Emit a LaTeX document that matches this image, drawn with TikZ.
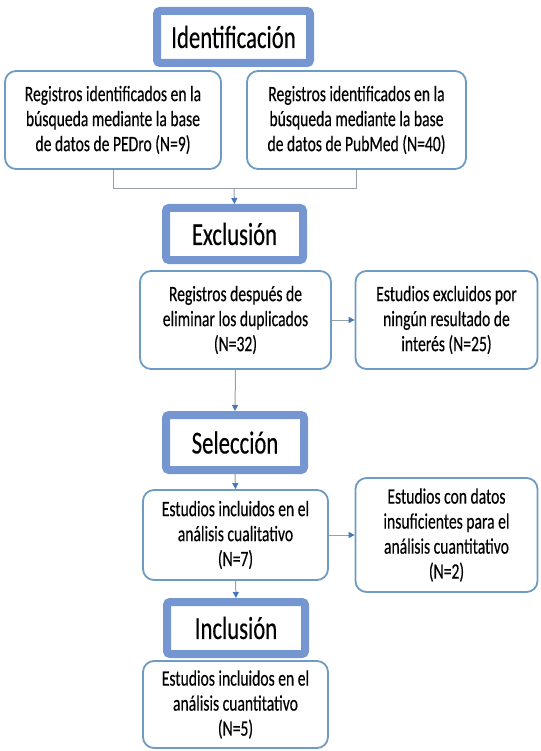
\documentclass[tikz,border=0pt]{standalone}
\usepackage{fontspec}
\setmainfont{Carlito}[FakeStretch=0.71, FakeBold=0.3]
\usepackage{tikz}
\usetikzlibrary{arrows.meta,positioning,calc}

\definecolor{hdrblue}{RGB}{118,150,210}
\definecolor{boxblue}{RGB}{110,155,195}
\definecolor{lnkgray}{RGB}{150,160,170}
\definecolor{tipblue}{RGB}{70,120,185}

\begin{document}
\begin{tikzpicture}[
    x=1pt, y=-1pt,
    hdr/.style={draw=hdrblue, line width=8pt, fill=white, rounded corners=3pt, inner sep=0pt, align=center, font=\fontsize{32}{36}\selectfont},
    box/.style={draw=boxblue, line width=1.8pt, fill=white, rounded corners=11pt, inner sep=0pt, align=center, font=\fontsize{22}{25}\selectfont},
    arr/.style={-{Triangle[length=6pt, width=6pt, color=tipblue]}, draw=lnkgray, line width=1pt},
    lnk/.style={draw=lnkgray, line width=1pt}
]
\useasboundingbox (0,0) rectangle (540,751);

% fases
\node[hdr, minimum width=153pt, minimum height=52pt] (ident) at (233.5,37) {Identificación};
\node[hdr, minimum width=137pt, minimum height=52pt] (excl) at (234.5,234) {Exclusión};
\node[hdr, minimum width=138pt, minimum height=55pt] (sel) at (235,442.5) {Selección};
\node[hdr, minimum width=138pt, minimum height=52pt] (incl) at (236,628) {Inclusión};

% registros
\node[box, minimum width=216pt, minimum height=98pt] (pedro) at (113,120) {Registros identificados en la\\búsqueda mediante la base\\de datos de PEDro (N=9)};
\node[box, minimum width=219pt, minimum height=98pt] (pubmed) at (356.5,120) {Registros identificados en la\\búsqueda mediante la base\\de datos de PubMed (N=40)};
\node[box, minimum width=191pt, minimum height=98pt] (dup) at (235.5,320) {Registros después de\\eliminar los duplicados\\(N=32)};
\node[box, minimum width=182pt, minimum height=98pt] (noint) at (446.5,320) {Estudios excluidos por\\ningún resultado de\\interés (N=25)};
\node[box, minimum width=185pt, minimum height=90pt] (cual) at (235.5,535) {Estudios incluidos en el\\análisis cualitativo\\(N=7)};
\node[box, minimum width=182pt, minimum height=114pt] (insuf) at (446.5,535) {Estudios con datos\\insuficientes para el\\análisis cuantitativo\\(N=2)};
\node[box, minimum width=185pt, minimum height=87pt] (cuant) at (235.5,704.5) {Estudios incluidos en el\\análisis cuantitativo\\(N=5)};

\coordinate (join) at (234,189);
\draw[lnk] (pedro.south) |- (join);
\draw[lnk] (pubmed.south) |- (join);
\draw[arr] (join) -- (excl.north);
\draw[arr] (dup.east) -- (noint.west);
\draw[arr] (dup.south) -- (sel.north);
\draw[arr] (sel.south) -- (cual.north);
\draw[arr] (cual.east) -- (insuf.west);
\draw[arr] (cual.south) -- (incl.north);
\end{tikzpicture}
\end{document}
